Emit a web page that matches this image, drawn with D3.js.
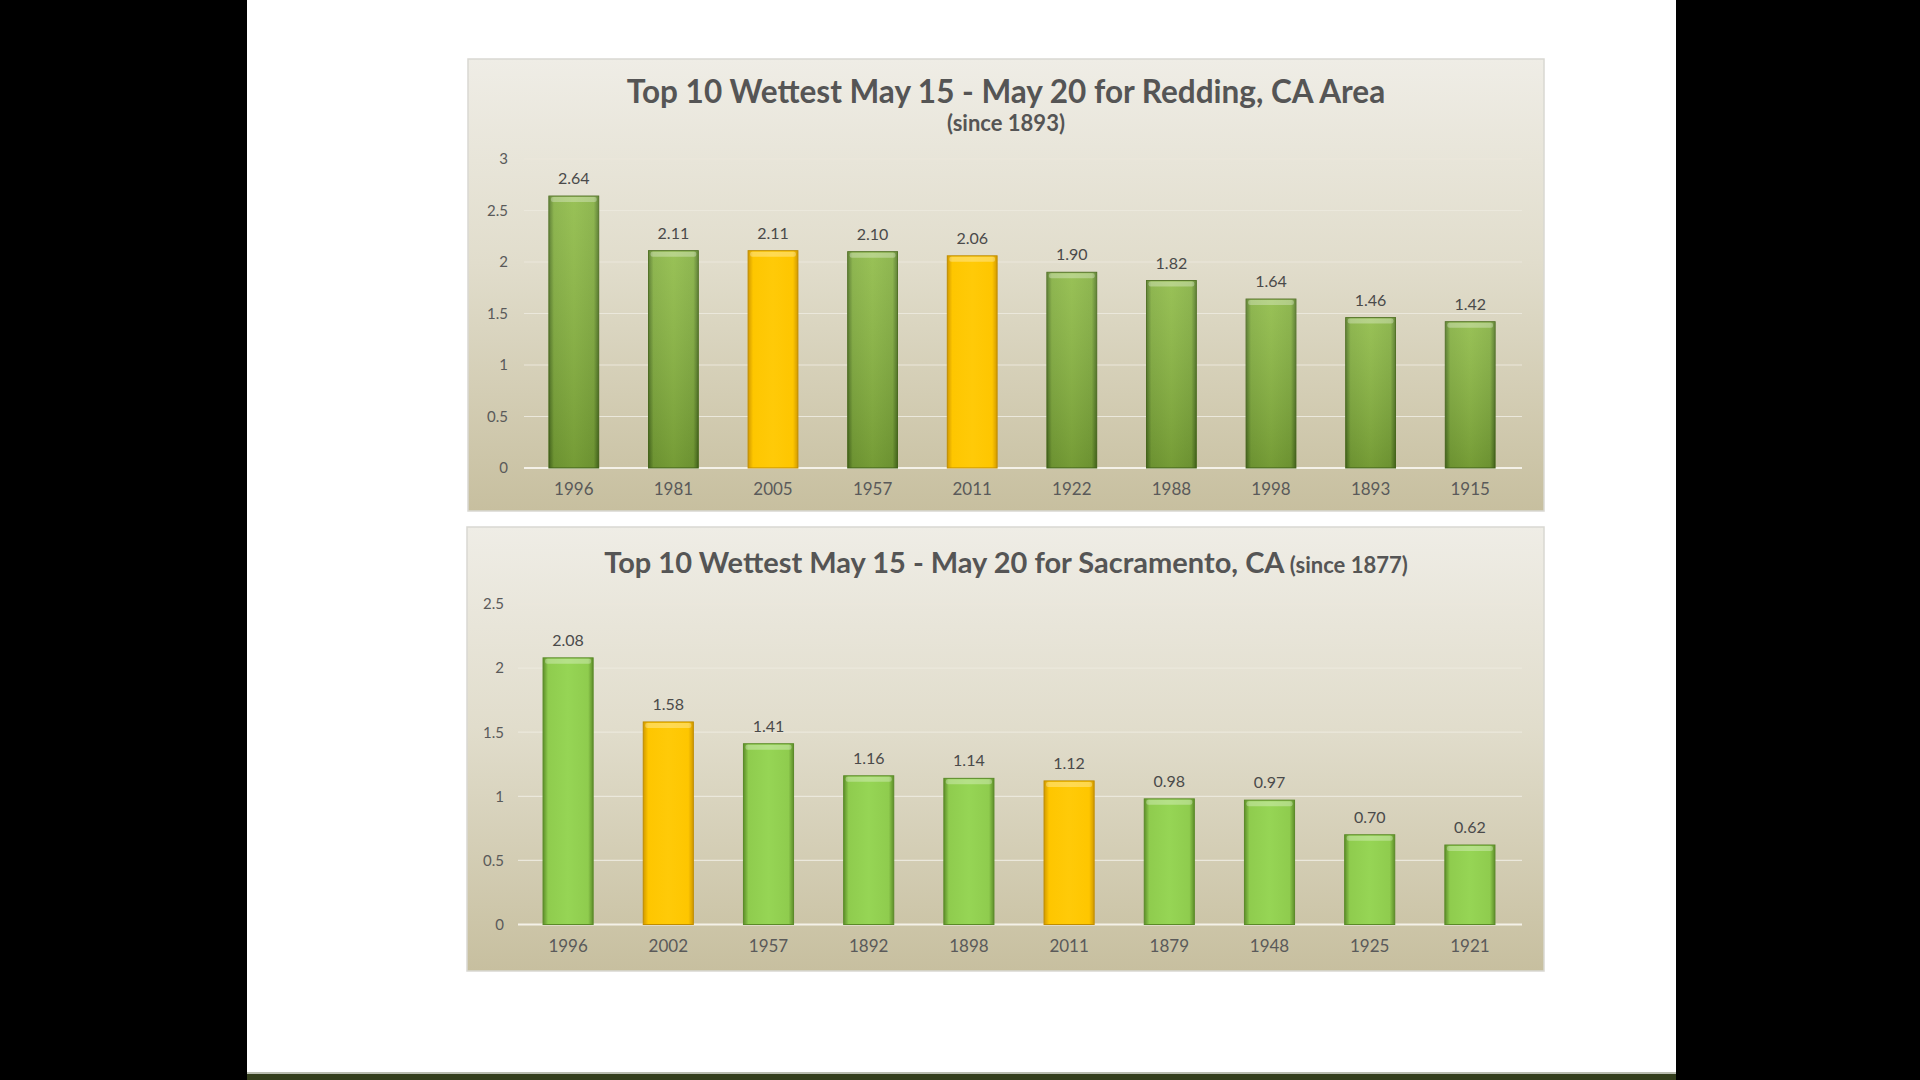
<!DOCTYPE html>
<html>
<head>
<meta charset="utf-8">
<script src="https://cdn.jsdelivr.net/npm/d3@7"></script>
<style>
  body { margin: 0; background: #000; }
  svg { display: block; font-family: Lato, "Open Sans", sans-serif; }
</style>
</head>
<body>
<div id="plot"></div>
<script>
// data
const reddingYears = ["1996", "1981", "2005", "1957", "2011", "1922", "1988", "1998", "1893", "1915"];
const reddingValues = [2.64, 2.11, 2.11, 2.10, 2.06, 1.90, 1.82, 1.64, 1.46, 1.42];
const reddingTicks = [0, 0.5, 1, 1.5, 2, 2.5, 3];

const sacYears = ["1996", "2002", "1957", "1892", "1898", "2011", "1879", "1948", "1925", "1921"];
const sacValues = [2.08, 1.58, 1.41, 1.16, 1.14, 1.12, 0.98, 0.97, 0.70, 0.62];
const sacTicks = [0, 0.5, 1, 1.5, 2, 2.5];

// years drawn in yellow
const highlightYears = ["2005", "2011", "2002"];

const w = 1920;
const h = 1080;

const svg = d3.select("#plot")
  .append("svg")
    .attr("width", w)
    .attr("height", h);

const defs = svg.append("defs");

// panel background gradient
const bg = defs.append("linearGradient")
    .attr("id", "panelBg")
    .attr("x1", 0).attr("y1", 0).attr("x2", 0).attr("y2", 1);
bg.append("stop").attr("offset", "0%").attr("stop-color", "#efede6");
bg.append("stop").attr("offset", "45%").attr("stop-color", "#e1ddcc");
bg.append("stop").attr("offset", "100%").attr("stop-color", "#c7bf9f");

// bar gradients (horizontal: darker edges)
function barGrad(id, edge, mid, center) {
  const g = defs.append("linearGradient")
      .attr("id", id)
      .attr("x1", 0).attr("y1", 0).attr("x2", 1).attr("y2", 0);
  g.append("stop").attr("offset", "0%").attr("stop-color", edge);
  g.append("stop").attr("offset", "10%").attr("stop-color", mid);
  g.append("stop").attr("offset", "50%").attr("stop-color", center);
  g.append("stop").attr("offset", "90%").attr("stop-color", mid);
  g.append("stop").attr("offset", "100%").attr("stop-color", edge);
}
barGrad("greenDark", "#4e7420", "#80ad3a", "#8bb940");
barGrad("greenLight", "#5e8e2a", "#8fcc4e", "#96d555");
barGrad("yellow", "#d29a00", "#fec600", "#ffca08");

// shade toward bottom for the Redding green bars
const shade = defs.append("linearGradient")
    .attr("id", "shadeDown")
    .attr("x1", 0).attr("y1", 0).attr("x2", 0).attr("y2", 1);
shade.append("stop").attr("offset", "0%").attr("stop-color", "#ffffff").attr("stop-opacity", 0.12);
shade.append("stop").attr("offset", "100%").attr("stop-color", "#000000").attr("stop-opacity", 0.16);

// black frame and white slide
svg.append("rect").attr("width", w).attr("height", h).attr("fill", "#000");
svg.append("rect")
    .attr("x", 247).attr("y", 0)
    .attr("width", 1676 - 247).attr("height", 1074)
    .attr("fill", "#fff");
svg.append("rect")
    .attr("x", 247).attr("y", 1072)
    .attr("width", 1676 - 247).attr("height", 2)
    .attr("fill", "#b9bcb0");
svg.append("rect")
    .attr("x", 247).attr("y", 1074)
    .attr("width", 1676 - 247).attr("height", 6)
    .attr("fill", "#333d1c");

function drawChart(cfg) {
  const g = svg.append("g");

  g.append("rect")
      .attr("x", cfg.panel.x).attr("y", cfg.panel.y)
      .attr("width", cfg.panel.w).attr("height", cfg.panel.h)
      .attr("fill", "url(#panelBg)")
      .attr("stroke", "#d9d8d2")
      .attr("stroke-width", 1.5);

  const x = d3.scaleBand()
      .domain(cfg.years)
      .range([cfg.x0, cfg.x1])
      .paddingInner(0.5)
      .paddingOuter(0.25);

  const y = d3.scaleLinear()
      .domain([0, d3.max(cfg.ticks)])
      .range([cfg.y0, cfg.y1]);

  // gridlines
  g.append("g")
    .selectAll("line")
    .data(cfg.ticks)
    .join("line")
      .attr("x1", cfg.x0).attr("x2", cfg.x1 + 2)
      .attr("y1", d => y(d)).attr("y2", d => y(d))
      .attr("stroke", d => d === 0 ? "#f4f1e8" : "#ebe8dc")
      .attr("stroke-width", d => d === 0 ? 2 : 1.2);

  // y axis labels
  const yAxis = d3.axisLeft(y)
      .tickValues(cfg.ticks)
      .tickFormat(d3.format("~g"))
      .tickSize(0)
      .tickPadding(0);
  g.append("g")
      .attr("transform", `translate(${cfg.tickX},0)`)
      .call(yAxis)
      .call(a => a.select(".domain").remove())
      .selectAll("text")
        .attr("fill", "#5a5a5a")
        .attr("font-size", 15)
        .attr("font-family", "Lato, sans-serif");

  // x axis labels
  const xAxis = d3.axisBottom(x).tickSize(0).tickPadding(0);
  g.append("g")
      .attr("transform", `translate(0,${cfg.y0 + cfg.xLabelGap})`)
      .call(xAxis)
      .call(a => a.select(".domain").remove())
      .selectAll("text")
        .attr("fill", "#5a5a5a")
        .attr("font-size", 17)
        .attr("font-family", "Lato, sans-serif");

  const data = cfg.years.map((yr, i) => ({year: yr, value: cfg.values[i]}));

  const bars = g.append("g")
    .selectAll("g")
    .data(data)
    .join("g");

  bars.append("rect")
      .attr("x", d => x(d.year))
      .attr("y", d => y(d.value))
      .attr("width", x.bandwidth())
      .attr("height", d => y(0) - y(d.value))
      .attr("fill", d => highlightYears.includes(d.year) ? "url(#yellow)" : `url(#${cfg.green})`)
      .attr("stroke", d => highlightYears.includes(d.year) ? "#c08d00" : cfg.greenStroke)
      .attr("stroke-width", 1);

  if (cfg.shade) {
    bars.filter(d => !highlightYears.includes(d.year))
      .append("rect")
        .attr("x", d => x(d.year))
        .attr("y", d => y(d.value))
        .attr("width", x.bandwidth())
        .attr("height", d => y(0) - y(d.value))
        .attr("fill", "url(#shadeDown)");
  }

  // bevel highlight on top
  bars.append("rect")
      .attr("x", d => x(d.year) + 2)
      .attr("y", d => y(d.value) + 1)
      .attr("width", x.bandwidth() - 4)
      .attr("height", 5)
      .attr("rx", 2)
      .attr("fill", "#ffffff")
      .attr("opacity", 0.3);

  // value labels
  bars.append("text")
      .attr("x", d => x(d.year) + x.bandwidth() / 2)
      .attr("y", d => y(d.value) - 12)
      .attr("text-anchor", "middle")
      .attr("fill", "#4a4a4a")
      .attr("font-size", 16)
      .text(d => d3.format(".2f")(d.value));

  // title
  const t = g.append("text")
      .attr("x", cfg.titleX)
      .attr("y", cfg.titleY)
      .attr("text-anchor", "middle")
      .attr("fill", "#555555")
      .attr("font-weight", "bold")
      .attr("font-size", cfg.titleSize);
  t.append("tspan").text(cfg.title);
  if (cfg.inlineSub) {
    t.append("tspan").attr("font-size", 22).text(" " + cfg.inlineSub);
  }
  if (cfg.sub) {
    g.append("text")
        .attr("x", cfg.titleX)
        .attr("y", cfg.subY)
        .attr("text-anchor", "middle")
        .attr("fill", "#555555")
        .attr("font-weight", "bold")
        .attr("font-size", 22)
        .text(cfg.sub);
  }
}

drawChart({
  panel: {x: 468, y: 59, w: 1076, h: 452},
  years: reddingYears,
  values: reddingValues,
  ticks: reddingTicks,
  x0: 524, x1: 1520,
  y0: 468, y1: 159,
  tickX: 508,
  xLabelGap: 15,
  green: "greenDark",
  greenStroke: "#4a6c1c",
  shade: true,
  title: "Top 10 Wettest May 15 - May 20 for Redding, CA Area",
  titleSize: 31.5,
  sub: "(since 1893)",
  titleX: 1006, titleY: 103,
  subY: 131
});

drawChart({
  panel: {x: 467, y: 527, w: 1077, h: 444},
  years: sacYears,
  values: sacValues,
  ticks: sacTicks,
  x0: 518, x1: 1520,
  y0: 924.5, y1: 604,
  tickX: 504,
  xLabelGap: 15,
  green: "greenLight",
  greenStroke: "#5a8a28",
  shade: false,
  title: "Top 10 Wettest May 15 - May 20 for Sacramento, CA",
  titleSize: 29,
  inlineSub: "(since 1877)",
  titleX: 1006, titleY: 573
});
</script>
</body>
</html>
